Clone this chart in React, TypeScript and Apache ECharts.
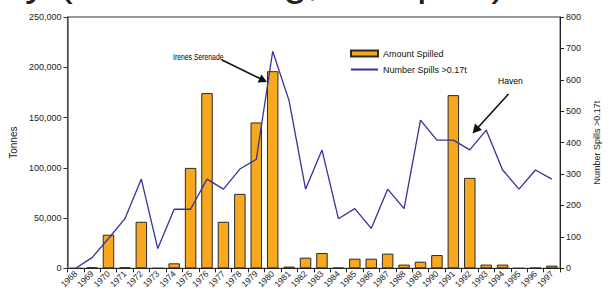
import React, { useEffect, useRef } from "react";
import * as echarts from "echarts";

const years = [
  "1968", "1969", "1970", "1971", "1972", "1973", "1974", "1975", "1976", "1977",
  "1978", "1979", "1980", "1981", "1982", "1983", "1984", "1985", "1986", "1987",
  "1988", "1989", "1990", "1991", "1992", "1993", "1994", "1995", "1996", "1997",
];

// Amount spilled (tonnes), left axis
const amountSpilled = [
  0, 1000, 33400, 1000, 46300, 0, 5000, 99900, 174300, 46300,
  74100, 145100, 196100, 1700, 10600, 15200, 500, 9600, 9600, 14600,
  3700, 6600, 13200, 172300, 90000, 3700, 3700, 0, 500, 2700,
];

// Number of spills > 0.17t, right axis
const numberSpills = [
  0, 34, 95, 158, 284, 63, 188, 188, 284, 252,
  316, 347, 691, 533, 252, 377, 158, 190, 127, 252,
  190, 472, 408, 408, 377, 440, 313, 252, 313, 284,
];

const FONT = "'Liberation Sans', Arial, Helvetica, sans-serif";
const TITLE_TEXT = "Oil Spills by (Lost Sinking, All Spills)";

export default function App() {
  const ref = useRef<HTMLDivElement>(null);
  useEffect(() => {
    document.body.style.margin = "0";
    const chart = echarts.init(ref.current!, null, { renderer: "svg" });
    chart.setOption({
      animation: false,
      backgroundColor: "#ffffff",
      textStyle: { fontFamily: FONT },
      grid: {
        left: 66,
        right: 37,
        top: 17,
        bottom: 22,
        show: true,
        borderColor: "#333",
        borderWidth: 1,
        containLabel: false,
      },
      legend: {
        left: 345,
        top: 44,
        orient: "vertical",
        itemWidth: 27,
        itemHeight: 6,
        itemGap: 7,
        textStyle: { fontSize: 9, color: "#111", fontFamily: FONT },
        data: [
          { name: "Amount Spilled", icon: "rect" },
          { name: "Number Spills >0.17t", itemStyle: { opacity: 0 } },
        ],
      },
      xAxis: {
        type: "category",
        data: years,
        boundaryGap: true,
        axisLine: { lineStyle: { color: "#222", width: 1 } },
        axisTick: { show: true, interval: 0, length: 4, lineStyle: { color: "#222" } },
        axisLabel: {
          interval: 0,
          rotate: 45,
          fontSize: 8.5,
          color: "#222",
          margin: 4,
          fontFamily: FONT,
        },
        splitLine: { show: false },
      },
      yAxis: [
        {
          type: "value",
          min: 0,
          max: 250000,
          interval: 50000,
          name: "Tonnes",
          nameLocation: "middle",
          nameRotate: 90,
          nameGap: 47,
          nameTextStyle: { fontSize: 10, color: "#222", fontFamily: FONT },
          axisLine: { show: true, lineStyle: { color: "#555", width: 1.5 } },
          axisTick: { show: true, length: 4, lineStyle: { color: "#333" } },
          axisLabel: {
            fontSize: 9,
            color: "#222",
            margin: 6,
            fontFamily: FONT,
            formatter: (v: number) => v.toLocaleString("en-US"),
          },
          splitLine: { show: false },
        },
        {
          type: "value",
          min: 0,
          max: 800,
          interval: 100,
          position: "right",
          name: "Number Spills >0.17t",
          nameLocation: "middle",
          nameRotate: 90,
          nameGap: 31,
          nameTextStyle: { fontSize: 9, color: "#222", fontFamily: FONT },
          axisLine: { show: true, lineStyle: { color: "#222", width: 1 } },
          axisTick: { show: true, length: 4, lineStyle: { color: "#222" } },
          axisLabel: { fontSize: 9, color: "#222", margin: 6, fontFamily: FONT },
          splitLine: { show: false },
        },
      ],
      series: [
        {
          name: "Amount Spilled",
          type: "bar",
          yAxisIndex: 0,
          data: amountSpilled,
          barWidth: "70%",
          itemStyle: { color: "#F7A81E", borderColor: "#2a2a2a", borderWidth: 1 },
        },
        {
          name: "Number Spills >0.17t",
          type: "line",
          yAxisIndex: 1,
          data: numberSpills,
          symbol: "none",
          lineStyle: { color: "#333399", width: 1.3 },
          itemStyle: { color: "#333399" },
        },
      ],
      graphic: [
        {
          type: "text",
          x: -178,
          y: -20,
          style: {
            text: TITLE_TEXT,
            fontSize: 43,
            fontFamily: FONT,
            fill: "#222",
            verticalAlign: "middle",
          },
        },
        {
          type: "text",
          x: 173,
          y: 57,
          scaleX: 0.76,
          style: {
            text: "Irenes Serenade",
            fontSize: 9,
            fontFamily: FONT,
            fill: "#000",
            verticalAlign: "middle",
          },
        },
        {
          type: "line",
          shape: { x1: 222, y1: 60, x2: 260, y2: 78.5 },
          style: { stroke: "#111", lineWidth: 1.6 },
        },
        {
          type: "polygon",
          shape: { points: [[267, 82], [257.5, 82.5], [261.5, 74.5]] },
          style: { fill: "#111" },
        },
        {
          type: "text",
          x: 498,
          y: 81,
          scaleX: 0.9,
          style: {
            text: "Haven",
            fontSize: 9.5,
            fontFamily: FONT,
            fill: "#000",
            verticalAlign: "middle",
          },
        },
        {
          type: "line",
          shape: { x1: 508.5, y1: 94, x2: 478, y2: 127.5 },
          style: { stroke: "#111", lineWidth: 1.6 },
        },
        {
          type: "polygon",
          shape: { points: [[472.5, 133.5], [475, 123.5], [482, 130]] },
          style: { fill: "#111" },
        },
      ],
    });
    return () => chart.dispose();
  }, []);
  return <div ref={ref} style={{ width: 609, height: 291 }} />;
}
